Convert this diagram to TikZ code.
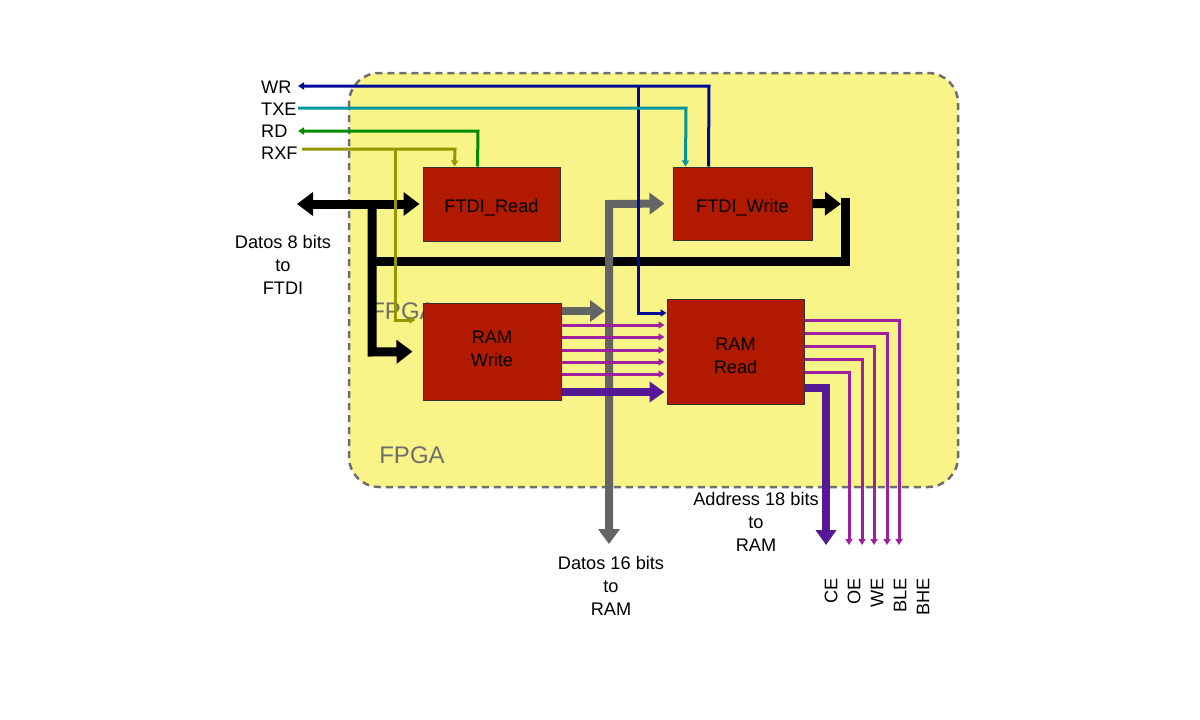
\documentclass[tikz,border=0pt]{standalone}
\usepackage{fontspec}
\setmainfont{Liberation Sans}
\usetikzlibrary{arrows.meta,calc}
\definecolor{fpgabg}{RGB}{249,244,135}
\definecolor{fpgaline}{RGB}{110,110,110}
\definecolor{boxred}{RGB}{178,26,0}
\definecolor{wrblue}{RGB}{0,10,150}
\definecolor{txeteal}{RGB}{0,150,160}
\definecolor{rdgreen}{RGB}{0,140,0}
\definecolor{rxfolive}{RGB}{150,150,0}
\definecolor{busgray}{RGB}{100,100,100}
\definecolor{sigmag}{RGB}{160,30,160}
\definecolor{addrpurple}{RGB}{85,25,150}
\begin{document}
\begin{tikzpicture}[x=1pt,y=-1pt,
  fpgabox/.style={draw=fpgaline,fill=fpgabg,line width=2.5pt,dash pattern=on 7pt off 5pt,rounded corners=30pt},
  blk/.style={draw=black!80,line width=1pt,fill=boxred,inner sep=0pt},
  boxtxt/.style={font=\fontsize{18.2}{23}\selectfont,align=center,inner sep=0pt},
  lbl/.style={font=\fontsize{18.2}{23}\selectfont,align=center,inner sep=0pt},
  fpgatxt/.style={font=\fontsize{24}{28}\selectfont,text=fpgaline,inner sep=0pt},
  tipS/.tip={Triangle[length=6pt,width=7pt]},
  tipB/.tip={Triangle[length=16pt,width=23pt]},
  tipG/.tip={Triangle[length=15pt,width=21pt]},
  tipP/.tip={Triangle[length=15pt,width=20pt]},
  sig/.style={line width=3pt,-tipS},
  bbus/.style={line width=9pt,black},
  gbus/.style={line width=8pt,busgray},
  msig/.style={line width=3pt,sigmag,-tipS},
  pbus/.style={line width=8.5pt,addrpurple}]
\useasboundingbox (0,0) rectangle (1200,720);
% container
\draw[fpgabox] (349,73) rectangle (958,487);
\node[fpgatxt] (fpgahidden) at (403,311) {FPGA};
\node[fpgatxt] (fpga) at (412,455) {FPGA};
% boxes
\node[blk,minimum width=137pt,minimum height=74pt] (fr) at (491.5,204) {};
\node[blk,minimum width=139pt,minimum height=73pt] (fw) at (742.5,203.5) {};
\node[blk,minimum width=138pt,minimum height=97pt] (rw) at (492,351.5) {};
\node[blk,minimum width=137pt,minimum height=105pt] (rr) at (735.5,351.5) {};
\node[boxtxt] (frt) at ($(fr.center)+(0,4)$) {FTDI\_Read};
\node[boxtxt] (fwt) at ($(fw.center)+(0,4)$) {FTDI\_Write};
\node[boxtxt] (rwt) at ($(rw.center)+(0,-3)$) {RAM\\Write};
\node[boxtxt] (rrt) at ($(rr.center)+(0,4)$) {RAM\\Read};
% signal labels
\node[lbl,anchor=west] (wr) at (261,87) {WR};
\node[lbl,anchor=west] (txe) at (261,109) {TXE};
\node[lbl,anchor=west] (rd) at (261,131) {RD};
\node[lbl,anchor=west] (rxf) at (261,153) {RXF};
\coordinate (wrend) at (298,86);
\coordinate (txeend) at (298,108);
\coordinate (rdend) at (298,131);
\coordinate (rxfend) at (302,149);
% black bus
\coordinate (dleft) at (297,204);
\draw[bbus,tipB-tipB,shorten >=3pt] (dleft) -- (fr.west);
\draw[bbus,-tipB,shorten >=10pt,line join=miter] (372,204) -- (372,352) -- (rw.west);
\draw[bbus,line join=miter] (372,261) -- (845,261) -- (845,198);
\draw[bbus,-tipB,shorten >=4pt] (fw.east) -- (845,204);
% gray bus
\coordinate (gdown) at (609,544);
\draw[gbus,-tipG,shorten >=4pt] ($(rw.east)+(0,-40.5)$) -- (609,311);
\draw[gbus,tipG-tipG,shorten >=8pt,line join=miter] (gdown) -- (609,204) -- (fw.west);
% purple signals RAM Write -> RAM Read
\foreach \d in {-26.5,-14.5,-1.5,10.5,22.5}
  \draw[msig,shorten >=2pt] ($(rw.east)+(0,\d)$) -- ($(rr.west)+(0,\d)$);
\draw[pbus,-tipP,shorten >=2pt] ($(rw.east)+(0,40.5)$) -- ($(rr.west)+(0,40.5)$);
% RAM Read outputs
\coordinate (bheo) at (899,545);
\coordinate (bleo) at (887,545);
\coordinate (weo) at (874,545);
\coordinate (oeo) at (862,545);
\coordinate (ceo) at (849,545);
\coordinate (addro) at (826,545);
\draw[msig] ($(rr.east)+(0,-31.5)$) -| (bheo);
\draw[msig] ($(rr.east)+(0,-18.5)$) -| (bleo);
\draw[msig] ($(rr.east)+(0,-5.5)$) -| (weo);
\draw[msig] ($(rr.east)+(0,7.5)$) -| (oeo);
\draw[msig] ($(rr.east)+(0,20.5)$) -| (ceo);
\draw[pbus,-tipP,line join=miter] ($(rr.east)+(0,36.5)$) -| (addro);
% control signals
\draw[sig,wrblue] ($(fw.north west)+(36,0)$) -- (709,86) -- (wrend);
\draw[sig,wrblue] (638,86) -- (638,313) -- ($(rr.west)+(0,-38.5)$);
\draw[sig,txeteal] (txeend) -- (686,108) -- ($(fw.north west)+(13,0)$);
\draw[sig,rdgreen] ($(fr.north west)+(55,0)$) -- (478,131) -- (rdend);
\draw[sig,rxfolive] (rxfend) -- (455,149) -- ($(fr.north west)+(32,0)$);
\draw[sig,rxfolive,shorten >=7pt] (395,149) -- (395,320) -- ($(rw.west)+(0,-31.5)$);
% text labels
\node[lbl] (d8) at (283,265) {Datos 8 bits\\to\\FTDI};
\node[lbl] (d16) at (611,586) {Datos 16 bits\\to\\RAM};
\node[lbl] (a18) at (756,522) {Address 18 bits\\to\\RAM};
\node[lbl,rotate=90,anchor=east] (ce) at (831,578) {CE};
\node[lbl,rotate=90,anchor=east] (oe) at (854,578) {OE};
\node[lbl,rotate=90,anchor=east] (we) at (877,578) {WE};
\node[lbl,rotate=90,anchor=east] (ble) at (900,578) {BLE};
\node[lbl,rotate=90,anchor=east] (bhe) at (923,578) {BHE};
\end{tikzpicture}
\end{document}
